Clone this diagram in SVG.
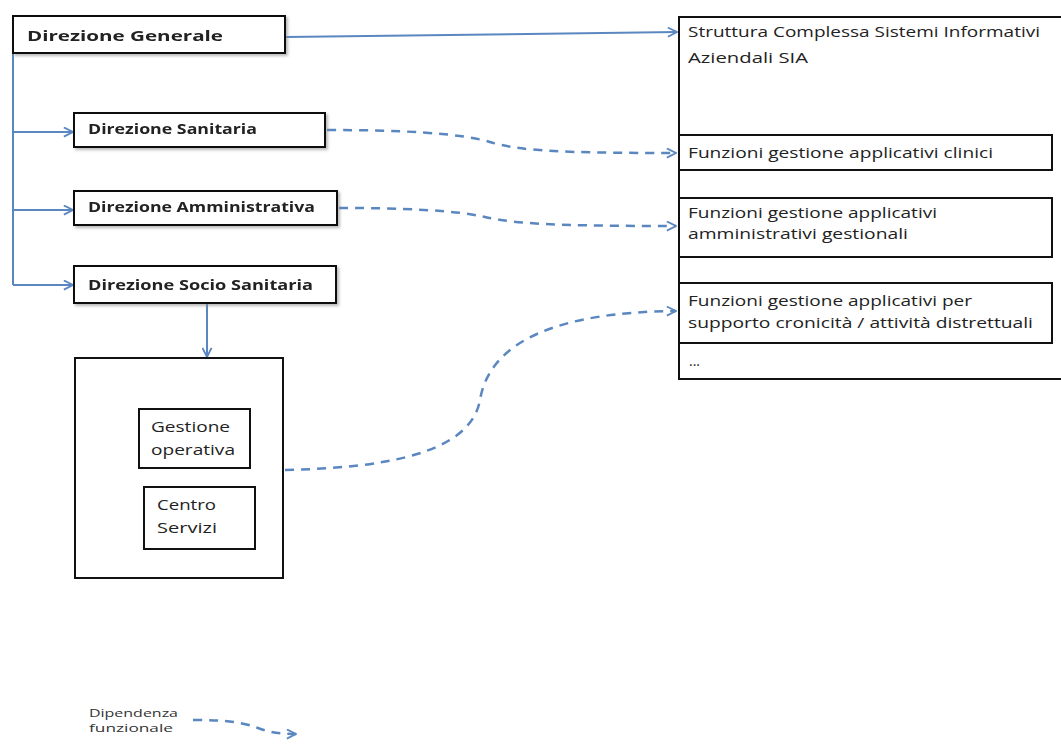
<svg xmlns="http://www.w3.org/2000/svg" width="1061" height="745" viewBox="0 0 1061 745">
<defs>
<style>
.box{fill:#fff;stroke:#111;stroke-width:2}
.tb{font-family:"Open Sans","Liberation Sans",sans-serif;font-weight:bold;fill:#222;font-size:14px}
.tr{font-family:"Open Sans","Liberation Sans",sans-serif;fill:#222;font-size:14px}
.ts{font-family:"Open Sans","Liberation Sans",sans-serif;fill:#333;font-size:10px}
.solid{fill:none;stroke:#5a87c0;stroke-width:2}
.dash{fill:none;stroke:#5a87c0;stroke-width:2.5;stroke-dasharray:9 7}
</style>
<filter id="sh" x="-5%" y="-20%" width="115%" height="150%">
<feDropShadow dx="2" dy="2" stdDeviation="1.5" flood-color="#888" flood-opacity="0.6"/>
</filter>
<marker id="ah" viewBox="0 0 12 12" refX="11" refY="6" markerWidth="11" markerHeight="11" markerUnits="userSpaceOnUse" orient="auto">
<path d="M1,1 L11,6 L1,11" fill="none" stroke="#5a87c0" stroke-width="2"/>
</marker>
</defs>
<rect width="1061" height="745" fill="#fff"/>

<g id="connectors">
<path class="solid" d="M286,37 L677,32" marker-end="url(#ah)"/>
<path class="solid" d="M13,53 L13,285"/>
<path class="solid" d="M13,132 L73,132" marker-end="url(#ah)"/>
<path class="solid" d="M13,210 L73,210" marker-end="url(#ah)"/>
<path class="solid" d="M13,285 L73,285" marker-end="url(#ah)"/>
<path class="solid" d="M207,303 L207,357" marker-end="url(#ah)"/>
<path class="dash" d="M327,130 C400,130 460,133 490,142 C520,151 560,153 676,153" marker-end="url(#ah)"/>
<path class="dash" d="M339,208 C400,208 455,210 485,217 C515,224 560,226 676,226" marker-end="url(#ah)"/>
<path class="dash" d="M285,470 C380,468 470,455 480,400 C490,340 560,312 676,311" marker-end="url(#ah)"/>
</g>

<g id="dg" filter="url(#sh)">
<rect class="box" x="13" y="16" width="272" height="37"/>
<text class="tb" x="27" y="41" font-size="17" textLength="196" lengthAdjust="spacingAndGlyphs">Direzione Generale</text>
</g>
<g id="ds" filter="url(#sh)">
<rect class="box" x="74" y="113" width="251" height="34"/>
<text class="tb" x="88" y="134" textLength="169" lengthAdjust="spacingAndGlyphs">Direzione Sanitaria</text>
</g>
<g id="da" filter="url(#sh)">
<rect class="box" x="74" y="191" width="263" height="34"/>
<text class="tb" x="88" y="212" textLength="227" lengthAdjust="spacingAndGlyphs">Direzione Amministrativa</text>
</g>
<g id="dss" filter="url(#sh)">
<rect class="box" x="74" y="266" width="262" height="37"/>
<text class="tb" x="88" y="290" textLength="225" lengthAdjust="spacingAndGlyphs">Direzione  Socio Sanitaria</text>
</g>

<g id="sia">
<rect class="box" x="679" y="17" width="392" height="362"/>
<text class="tr" x="688" y="37" textLength="352" lengthAdjust="spacingAndGlyphs">Struttura Complessa Sistemi Informativi</text>
<text class="tr" x="688" y="63" textLength="120" lengthAdjust="spacingAndGlyphs">Aziendali  SIA</text>
</g>
<g id="clinici">
<rect class="box" x="679" y="135" width="373" height="35"/>
<text class="tr" x="688" y="158" textLength="305" lengthAdjust="spacingAndGlyphs">Funzioni gestione applicativi clinici</text>
</g>
<g id="amm">
<rect class="box" x="679" y="198" width="373" height="59"/>
<text class="tr" x="688" y="218" textLength="249" lengthAdjust="spacingAndGlyphs">Funzioni gestione applicativi</text>
<text class="tr" x="688" y="239" textLength="220" lengthAdjust="spacingAndGlyphs">amministrativi gestionali</text>
</g>
<g id="cron">
<rect class="box" x="679" y="283" width="373" height="60"/>
<text class="tr" x="688" y="306" textLength="284" lengthAdjust="spacingAndGlyphs">Funzioni gestione applicativi per</text>
<text class="tr" x="688" y="328" textLength="345" lengthAdjust="spacingAndGlyphs">supporto cronicità / attività distrettuali</text>
</g>
<g id="more">
<text class="tr" x="689" y="366" font-size="9" fill="#777">...</text>
</g>

<g id="dist">
<rect class="box" x="75" y="358" width="208" height="220"/>
</g>
<g id="gest">
<rect class="box" x="139" y="409" width="111" height="59"/>
<text class="tr" x="151" y="432" textLength="79" lengthAdjust="spacingAndGlyphs">Gestione</text>
<text class="tr" x="151" y="455" textLength="84" lengthAdjust="spacingAndGlyphs">operativa</text>
</g>
<g id="cs">
<rect class="box" x="144" y="487" width="111" height="62"/>
<text class="tr" x="157" y="510" textLength="59" lengthAdjust="spacingAndGlyphs">Centro</text>
<text class="tr" x="157" y="533" textLength="60" lengthAdjust="spacingAndGlyphs">Servizi</text>
</g>

<g id="legend">
<text class="ts" x="89" y="717" textLength="89" lengthAdjust="spacingAndGlyphs">Dipendenza</text>
<text class="ts" x="89" y="732" textLength="84" lengthAdjust="spacingAndGlyphs">funzionale</text>
<path class="dash" d="M193,720 C230,720 245,723 258,728 C268,732 280,734 296,734" marker-end="url(#ah)"/>
</g>
</svg>
